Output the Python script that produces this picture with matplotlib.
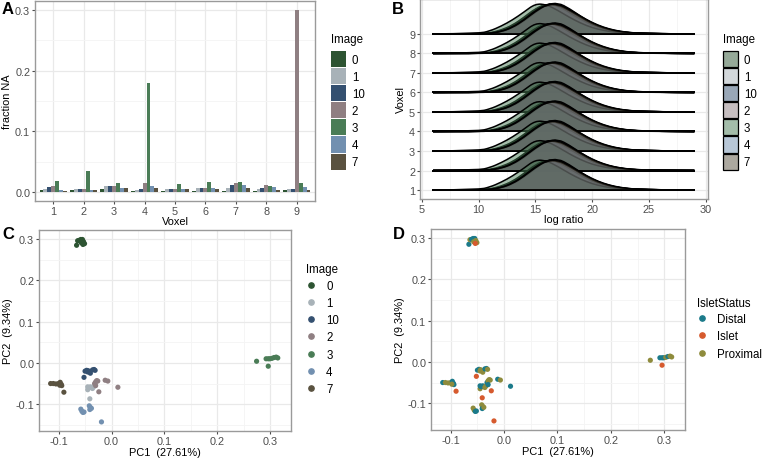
import numpy as np
import matplotlib
matplotlib.use("Agg")
import matplotlib.pyplot as plt
from matplotlib.patches import Patch, PathPatch
from matplotlib.path import Path
from matplotlib.lines import Line2D

plt.rcParams['font.family'] = ['Liberation Sans', 'DejaVu Sans']

W, H = 765, 460
fig = plt.figure(figsize=(W / 100, H / 100), dpi=100)

# ---------------- data ----------------
images = ['0', '1', '10', '2', '3', '4', '7']
image_colors = ['#2d5432', '#a8b2b8', '#345070', '#8f7f82', '#4a7c56', '#7290b0', '#5a5240']
voxels = [1, 2, 3, 4, 5, 6, 7, 8, 9]

# fraction NA per voxel (rows) and image (cols: 0,1,10,2,3,4,7)
frac_na = [
    [0.003, 0.004, 0.008, 0.009, 0.018, 0.003, 0.002],
    [0.003, 0.004, 0.005, 0.005, 0.034, 0.003, 0.003],
    [0.004, 0.009, 0.009, 0.009, 0.014, 0.006, 0.006],
    [0.001, 0.003, 0.005, 0.014, 0.180, 0.009, 0.006],
    [0.002, 0.004, 0.004, 0.005, 0.013, 0.005, 0.004],
    [0.002, 0.007, 0.007, 0.006, 0.017, 0.007, 0.004],
    [0.001, 0.007, 0.012, 0.014, 0.016, 0.012, 0.007],
    [0.002, 0.004, 0.007, 0.011, 0.009, 0.008, 0.003],
    [0.003, 0.004, 0.004, 0.300, 0.015, 0.008, 0.003],
]

# ridge densities (height in voxel-spacing units) at log-ratio grid
ridge_x = [6, 10, 11, 12, 13, 14, 15, 16, 17, 18, 19, 20, 21, 22, 23, 24, 26, 29]
ridge_h = {
    '0':  [0, 0, 0.05, 0.20, 0.45, 0.85, 1.30, 1.55, 1.45, 1.15, 0.80, 0.50, 0.30, 0.15, 0.07, 0.03, 0.01, 0],
    '1':  [0, 0, 0.03, 0.15, 0.38, 0.75, 1.20, 1.55, 1.50, 1.20, 0.85, 0.55, 0.32, 0.17, 0.08, 0.04, 0.01, 0],
    '10': [0, 0, 0.03, 0.15, 0.40, 0.80, 1.25, 1.55, 1.45, 1.10, 0.75, 0.45, 0.25, 0.12, 0.06, 0.03, 0.01, 0],
    '2':  [0, 0, 0.02, 0.10, 0.30, 0.65, 1.10, 1.50, 1.60, 1.30, 0.90, 0.55, 0.30, 0.15, 0.07, 0.03, 0.01, 0],
    '3':  [0, 0.02, 0.15, 0.40, 0.72, 1.12, 1.55, 1.50, 1.20, 0.85, 0.55, 0.32, 0.18, 0.09, 0.04, 0.02, 0.005, 0],
    '4':  [0, 0, 0.03, 0.12, 0.35, 0.72, 1.20, 1.50, 1.50, 1.20, 0.85, 0.52, 0.30, 0.15, 0.07, 0.03, 0.01, 0],
    '7':  [0, 0, 0.02, 0.12, 0.33, 0.70, 1.15, 1.50, 1.55, 1.25, 0.90, 0.58, 0.34, 0.18, 0.09, 0.04, 0.01, 0],
}

# PCA scores
pca_image = (['0'] * 9 + ['3'] * 9 + ['7'] * 9 + ['10'] * 9 + ['1'] * 9 + ['2'] * 9 + ['4'] * 9)
pc1 = [-0.066, -0.064, -0.061, -0.058, -0.055, -0.053, -0.051, -0.057, -0.054,
       0.274, 0.292, 0.296, 0.299, 0.303, 0.307, 0.311, 0.314, 0.296,
       -0.115, -0.110, -0.105, -0.100, -0.097, -0.095, -0.094, -0.098, -0.090,
       -0.052, -0.050, -0.047, -0.044, -0.040, -0.036, -0.033, -0.031, -0.045,
       -0.045, -0.043, -0.040, -0.037, -0.034, -0.031, -0.045, -0.036, -0.041,
       -0.032, -0.030, -0.028, -0.026, -0.030, -0.012, -0.007, 0.012, -0.024,
       -0.058, -0.056, -0.054, -0.052, -0.042, -0.040, -0.041, -0.038, -0.019]
pc2 = [0.285, 0.296, 0.297, 0.299, 0.299, 0.294, 0.289, 0.291, 0.287,
       0.004, 0.010, 0.010, 0.010, 0.011, 0.013, 0.014, 0.012, -0.008,
       -0.050, -0.050, -0.051, -0.050, -0.047, -0.052, -0.055, -0.054, -0.071,
       -0.035, -0.020, -0.018, -0.019, -0.025, -0.017, -0.016, -0.018, -0.022,
       -0.065, -0.060, -0.058, -0.060, -0.058, -0.055, -0.058, -0.062, -0.087,
       -0.050, -0.046, -0.043, -0.044, -0.055, -0.042, -0.044, -0.059, -0.070,
       -0.112, -0.117, -0.120, -0.119, -0.104, -0.108, -0.113, -0.110, -0.143]
islet_status = (['Distal', 'Proximal', 'Distal', 'Distal', 'Distal', 'Proximal', 'Proximal', 'Proximal', 'Islet'] +
                ['Proximal', 'Distal', 'Distal', 'Distal', 'Proximal', 'Distal', 'Proximal', 'Proximal', 'Islet'] +
                ['Distal', 'Proximal', 'Proximal', 'Proximal', 'Distal', 'Distal', 'Distal', 'Proximal', 'Islet'] +
                ['Islet', 'Distal', 'Distal', 'Proximal', 'Proximal', 'Distal', 'Distal', 'Proximal', 'Proximal'] +
                ['Proximal', 'Distal', 'Distal', 'Distal', 'Proximal', 'Proximal', 'Distal', 'Proximal', 'Islet'] +
                ['Distal', 'Proximal', 'Proximal', 'Proximal', 'Distal', 'Distal', 'Proximal', 'Distal', 'Islet'] +
                ['Proximal', 'Proximal', 'Distal', 'Distal', 'Proximal', 'Proximal', 'Distal', 'Proximal', 'Islet'])
statuses = ['Distal', 'Islet', 'Proximal']
status_colors = ['#1b7a8a', '#d65a2e', '#8e8b3c']

# ---------------- styling helpers ----------------
TICK_FS = 7.8
TITLE_FS = 7.9
LEG_FS = 8.3
GRID_MAJ = '#e9e9e9'
GRID_MIN = '#f4f4f4'


def ax_px(l, t, r, b):
    return fig.add_axes([l / W, 1 - b / H, (r - l) / W, (b - t) / H])


def style(ax):
    for s in ax.spines.values():
        s.set_color('#9a9a9a')
        s.set_linewidth(1.0)
    ax.tick_params(axis='both', which='major', labelsize=TICK_FS, labelcolor='#4d4d4d',
                   color='#4d4d4d', length=2.5, width=0.8, pad=1.0)
    ax.tick_params(which='minor', length=0)
    ax.grid(True, which='major', color=GRID_MAJ, lw=0.9, zorder=0)
    ax.grid(True, which='minor', color=GRID_MIN, lw=0.6, zorder=0)
    ax.set_axisbelow(True)


def px_fig(x, y):
    return (x / W, 1 - y / H)


def smooth_path(xs, ys):
    # quadratic B-spline path through the given control points
    verts = [(xs[0], ys[0])]
    codes = [Path.MOVETO]
    for i in range(1, len(xs) - 1):
        mx = (xs[i] + xs[i + 1]) / 2
        my = (ys[i] + ys[i + 1]) / 2
        verts += [(xs[i], ys[i]), (mx, my)]
        codes += [Path.CURVE3, Path.CURVE3]
    verts.append((xs[-1], ys[-1]))
    codes.append(Path.LINETO)
    return verts, codes


box_legend_kw = dict(frameon=False, fontsize=LEG_FS, title_fontsize=LEG_FS, handlelength=1.3,
                     handleheight=1.76, labelspacing=0.09, handletextpad=0.5, borderpad=0,
                     borderaxespad=0, alignment='left', loc='upper left')
pt_legend_kw = dict(frameon=False, fontsize=LEG_FS, title_fontsize=LEG_FS, handlelength=0.9,
                    labelspacing=0.45, handletextpad=0.85, borderpad=0, borderaxespad=0,
                    alignment='left', loc='upper left')


def add_legend(handles, labels, anchor, title, kw, title_gap):
    leg = fig.legend(handles, labels, bbox_to_anchor=anchor, title=title, **kw)
    leg._legend_box.sep = title_gap
    return leg

# ---------------- Panel A ----------------
axA = ax_px(35, 2, 315, 202)
style(axA)
n = len(images)
bw = 0.9 / n
for j, img in enumerate(images):
    xs = [v - 0.45 + bw * (j + 0.5) for v in voxels]
    axA.bar(xs, [row[j] for row in frac_na], width=bw, color=image_colors[j], zorder=2)
axA.set_xlim(0.4, 9.6)
axA.set_ylim(-0.015, 0.315)
axA.set_xticks(voxels)
axA.set_yticks([0.0, 0.1, 0.2, 0.3])
axA.set_yticklabels(['0.0', '0.1', '0.2', '0.3'])
axA.set_yticks([0.05, 0.15, 0.25], minor=True)
axA.set_xlabel('Voxel', fontsize=TITLE_FS, labelpad=0)
axA.set_ylabel('fraction NA', fontsize=TITLE_FS, labelpad=2)
hA = [Patch(facecolor=c, edgecolor='none') for c in image_colors]
add_legend(hA, images, px_fig(331, 34), 'Image', box_legend_kw, 4.5)

# ---------------- Panel B ----------------
axB = ax_px(420, 0, 708, 200)
style(axB)
for v in sorted(voxels, reverse=True):
    z = 10 + (10 - v) * 10
    for j, img in enumerate(images):
        ys = [v + h for h in ridge_h[img]]
        verts, codes = smooth_path(ridge_x, ys)
        fill_verts = verts + [(ridge_x[-1], v), (ridge_x[0], v), (ridge_x[0], ys[0])]
        fill_codes = codes + [Path.LINETO, Path.LINETO, Path.CLOSEPOLY]
        axB.add_patch(PathPatch(Path(fill_verts, fill_codes), facecolor=image_colors[j], alpha=0.5,
                                edgecolor='none', zorder=z + j * 0.1))
        axB.add_patch(PathPatch(Path(verts, codes), facecolor='none', edgecolor='black', lw=1.1,
                                zorder=z + j * 0.1 + 0.05))
        axB.plot([ridge_x[0], ridge_x[-1]], [v, v], color='black', lw=1.1, zorder=z + j * 0.1 + 0.05)
axB.set_xlim(4.85, 30.2)
axB.set_ylim(0.54, 10.79)
axB.set_xticks([5, 10, 15, 20, 25, 30])
axB.set_xticks([7.5, 12.5, 17.5, 22.5, 27.5], minor=True)
axB.set_yticks(voxels)
axB.set_xlabel('log ratio', fontsize=TITLE_FS, labelpad=0)
axB.set_ylabel('Voxel', fontsize=TITLE_FS, labelpad=2)
hB = [Patch(facecolor=matplotlib.colors.to_rgba(c, 0.5), edgecolor='black', lw=0.9) for c in image_colors]
add_legend(hB, images, px_fig(723, 34), 'Image', box_legend_kw, 4.5)

# ---------------- Panel C & D ----------------
pc1a = np.array(pc1)
pc2a = np.array(pc2)
imga = np.array(pca_image)
stata = np.array(islet_status)


def pca_axes(ax):
    style(ax)
    ax.set_xlim(-0.137, 0.339)
    ax.set_ylim(-0.165, 0.322)
    ax.set_xticks([-0.1, 0.0, 0.1, 0.2, 0.3])
    ax.set_xticklabels(['-0.1', '0.0', '0.1', '0.2', '0.3'])
    ax.set_xticks([-0.05, 0.05, 0.15, 0.25], minor=True)
    ax.set_yticks([-0.1, 0.0, 0.1, 0.2, 0.3])
    ax.set_yticklabels(['-0.1', '0.0', '0.1', '0.2', '0.3'])
    ax.set_yticks([-0.15, -0.05, 0.05, 0.15, 0.25], minor=True)
    ax.set_xlabel('PC1  (27.61%)', fontsize=TITLE_FS, labelpad=1)
    ax.set_ylabel('PC2  (9.34%)', fontsize=TITLE_FS, labelpad=2)


axC = ax_px(39, 231, 291, 432)
pca_axes(axC)
for j, img in enumerate(images):
    m = imga == img
    axC.scatter(pc1a[m], pc2a[m], s=14, color=image_colors[j], edgecolors='none', zorder=3)
hC = [Line2D([], [], marker='o', ls='none', markersize=3.8, color=c) for c in image_colors]
add_legend(hC, images, px_fig(306, 264), 'Image', pt_legend_kw, 3.5)

axD = ax_px(431, 230, 685, 431)
pca_axes(axD)
scol = {s: c for s, c in zip(statuses, status_colors)}
axD.scatter(pc1a, pc2a, s=14, c=[scol[s] for s in stata], edgecolors='none', zorder=3)
hD = [Line2D([], [], marker='o', ls='none', markersize=3.8, color=c) for c in status_colors]
add_legend(hD, statuses, px_fig(697, 298), 'IsletStatus', pt_legend_kw, 3.0)

# panel letters
for lab, x, y in [('A', 2, 2), ('B', 392, 2), ('C', 2, 227), ('D', 393, 227)]:
    fig.text(x / W, 1 - y / H, lab, fontsize=12, fontweight='bold', va='top', ha='left')

fig.savefig('out.png', dpi=100)
